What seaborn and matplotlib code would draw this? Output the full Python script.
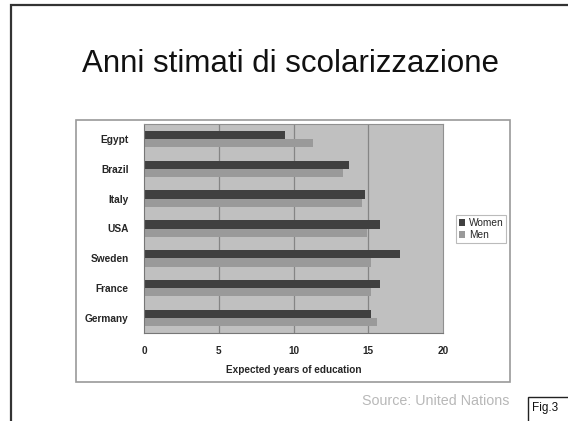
import matplotlib
matplotlib.use("Agg")
import matplotlib.pyplot as plt
from matplotlib.patches import Rectangle
import seaborn as sns
import pandas as pd

countries = ["Egypt", "Brazil", "Italy", "USA", "Sweden", "France", "Germany"]
women = [9.4, 13.7, 14.8, 15.8, 17.1, 15.8, 15.2]
men = [11.3, 13.3, 14.6, 14.9, 15.2, 15.2, 15.6]
series = ["Women", "Men"]
x_ticks = [0, 5, 10, 15, 20]

df = pd.DataFrame({
    "country": countries * 2,
    "years": women + men,
    "sex": [series[0]] * len(countries) + [series[1]] * len(countries),
})

sns.set_style("white")
plt.rcParams["font.family"] = ["Liberation Sans", "DejaVu Sans"]

W, H = 568, 421
fig = plt.figure(figsize=(W / 100, H / 100), dpi=100)
fig.patch.set_facecolor("white")

def fx(px):
    return px / W

def fy(py):
    return 1 - py / H

# slide frame
fig.add_artist(Rectangle((fx(11), fy(430)), fx(570) - fx(11), fy(5) - fy(430),
                         transform=fig.transFigure, fill=False,
                         edgecolor="#333333", linewidth=1.6))
# chart box
fig.add_artist(Rectangle((fx(76), fy(382)), fx(510) - fx(76), fy(120) - fy(382),
                         transform=fig.transFigure, fill=False,
                         edgecolor="#9a9a9a", linewidth=1.2))

fig.text(fx(290), fy(64), "Anni stimati di scolarizzazione", ha="center", va="center",
         fontsize=22.5, color="#111111")

ax = fig.add_axes([fx(144), fy(333), fx(443) - fx(144), fy(124) - fy(333)])
sns.barplot(data=df, x="years", y="country", hue="sex", orient="h",
            palette=["#404040", "#9a9a9a"], width=0.55, saturation=1,
            edgecolor="none", ax=ax)

ax.set_facecolor("#c0c0c0")
ax.set_xlim(0, 20)
ax.set_xticks(x_ticks)
ax.set_xticklabels([str(t) for t in x_ticks], fontsize=7.2, fontweight="bold")
ax.set_ylim(len(countries) - 0.5, -0.5)
ax.set_yticks(range(len(countries)))
ax.set_yticklabels(countries, fontsize=7.3, fontweight="bold")
ax.set_yticks([i - 0.5 for i in range(len(countries) + 1)], minor=True)
ax.tick_params(axis="y", which="major", length=0, pad=11)
ax.tick_params(axis="y", which="minor", length=3, color="#777777", width=0.8)
ax.tick_params(axis="x", length=0, pad=9)
for t in x_ticks[1:-1]:
    ax.axvline(t, color="#858585", linewidth=0.9, zorder=0.5)
ax.set_axisbelow(True)
for side in ["top", "right"]:
    ax.spines[side].set_color("#909090")
    ax.spines[side].set_linewidth(0.8)
ax.spines["left"].set_color("#777777")
ax.spines["bottom"].set_color("#777777")
for s in ax.spines.values():
    s.set_visible(True)
ax.set_xlabel("Expected years of education", fontsize=7.2, fontweight="bold", labelpad=7)
ax.set_ylabel("")

leg = ax.legend(title=None, loc="center left",
                fontsize=7.3, frameon=True, fancybox=False, handlelength=0.6,
                handleheight=0.6, handletextpad=0.35, borderpad=0.3, labelspacing=0.2,
                borderaxespad=0)
leg.set_bbox_to_anchor((fx(456), fy(229)), transform=fig.transFigure)
leg.get_frame().set_edgecolor("#aaaaaa")
leg.get_frame().set_linewidth(0.8)

fig.text(fx(362), fy(401), "Source: United Nations", ha="left", va="center",
         fontsize=10.3, color="#b8b8b8")
fig.add_artist(Rectangle((fx(528), fy(430)), fx(575) - fx(528), fy(397) - fy(430),
                         transform=fig.transFigure, fill=False,
                         edgecolor="#222222", linewidth=1.0))
fig.text(fx(532), fy(408), "Fig.3", ha="left", va="center", fontsize=8.5, color="#111111")

fig.savefig("out.png", dpi=100)
